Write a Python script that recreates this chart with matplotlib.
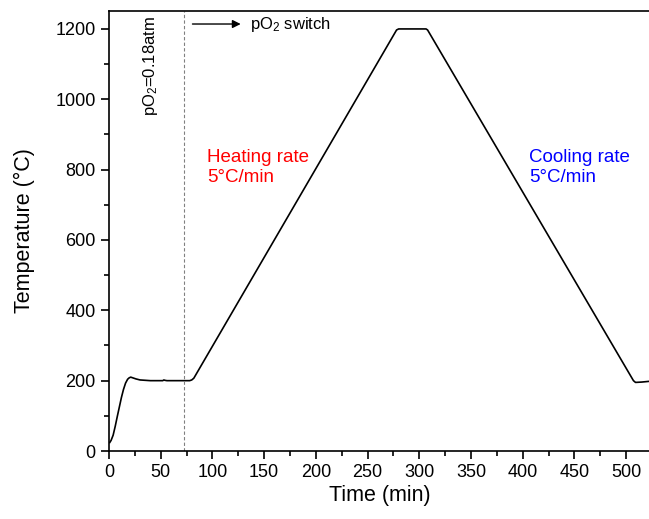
import matplotlib
matplotlib.use("Agg")
import matplotlib.pyplot as plt
from matplotlib.ticker import MultipleLocator

plt.rcParams["font.family"] = ["Liberation Sans", "DejaVu Sans"]
plt.rcParams["mathtext.default"] = "regular"

# temperature profile (time in min, T in degC)
time_min = [0.7, 2, 4, 6, 8, 10, 12, 14, 16, 18, 19.5, 21, 23, 26, 30, 35, 40,
            45, 50, 52, 53, 54, 56, 65, 72, 78, 80, 82,
            278, 280, 295, 306.5, 308, 507, 509, 515, 522]
temp_c = [24, 30, 45, 70, 98, 125, 152, 175, 193, 204, 208, 210, 208, 205, 202,
          201, 200, 200, 200, 200, 202, 201, 200, 200, 200, 200, 202, 207,
          1197, 1200, 1200, 1200, 1197, 200, 195, 196, 198]

switch_time = 72.6

fig = plt.figure(figsize=(6.49, 5.19), dpi=100)
ax = fig.add_axes([109 / 649, 68 / 519, 541 / 649, 440 / 519])

ax.plot(time_min, temp_c, color="black", lw=1.2)
ax.axvline(switch_time, color="gray", lw=0.8, ls=(0, (3, 2)))

ax.set_xlim(0, 523)
ax.set_ylim(0, 1251)
ax.xaxis.set_major_locator(MultipleLocator(50))
ax.xaxis.set_minor_locator(MultipleLocator(25))
ax.yaxis.set_major_locator(MultipleLocator(200))
ax.yaxis.set_minor_locator(MultipleLocator(100))
ax.tick_params(which="major", direction="out", length=6, width=1.2, labelsize=13)
ax.tick_params(which="minor", direction="out", length=3.5, width=1.2)
ax.tick_params(top=False, right=False)
for s in ax.spines.values():
    s.set_linewidth(1.2)

ax.set_xlabel("Time (min)", fontsize=15.5, labelpad=3)
ax.set_ylabel("Temperature (°C)", fontsize=15.5, labelpad=15)

ax.annotate("", xy=(130, 1214), xytext=(78, 1214),
            arrowprops=dict(arrowstyle="-|>", color="black", lw=1, mutation_scale=12))
ax.text(136, 1214, "pO$_2$ switch", fontsize=12, va="center", ha="left")
ax.text(40.5, 1095, "pO$_2$=0.18atm", fontsize=12, rotation=90,
        va="center", ha="center")

ax.text(95, 860, "Heating rate\n5°C/min", color="red", fontsize=13.5,
        va="top", ha="left", linespacing=1.3)
ax.text(406, 860, "Cooling rate\n5°C/min", color="blue", fontsize=13.5,
        va="top", ha="left", linespacing=1.3)

fig.savefig("out.png", dpi=100)
